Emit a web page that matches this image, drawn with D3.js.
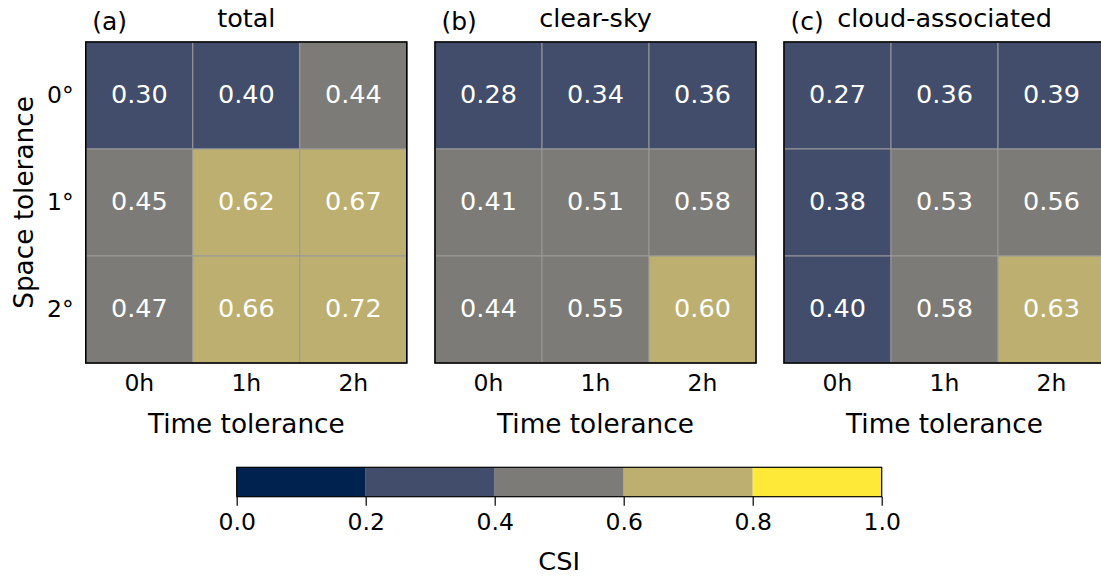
<!DOCTYPE html>
<html>
<head>
<meta charset="utf-8">
<script src="https://cdn.jsdelivr.net/npm/d3@7"></script>
<style>
	body { margin: 0; background: #fff; }
	svg { display: block; font-family: "DejaVu Sans", sans-serif; }
</style>
</head>
<body>
<main></main>
<script>
const timeLabels = ["0h", "1h", "2h"];
const spaceLabels = ["0°", "1°", "2°"];
const panelTags = ["(a)", "(b)", "(c)"];
const panelTitles = ["total", "clear-sky", "cloud-associated"];

// rows = space tolerance, columns = time tolerance
const csiTotal = [[0.30, 0.398, 0.44], [0.45, 0.62, 0.67], [0.47, 0.66, 0.72]];
const csiClear = [[0.28, 0.34, 0.36], [0.41, 0.51, 0.58], [0.44, 0.55, 0.602]];
const csiCloud = [[0.27, 0.36, 0.39], [0.38, 0.53, 0.56], [0.399, 0.58, 0.63]];

const binEdges = [0.2, 0.4, 0.6, 0.8];
const binColors = ["#00224e", "#414d6b", "#7c7b78", "#bcaf6f", "#fee838"];
const cbarTicks = [0, 0.2, 0.4, 0.6, 0.8, 1.0];

const w = 1101,
	h = 578,
	panelLeft = [85.8, 435, 784],
	panelW = 321,
	gridTop = 42,
	gridBottom = 363;

const color = d3.scaleThreshold().domain(binEdges).range(binColors);
const fmt = d3.format(".2f");

const svg = d3.select("main")
	.append("svg")
	.attr("width", w)
	.attr("height", h);

const yScale = d3.scaleBand()
	.domain(spaceLabels)
	.range([gridTop, gridBottom]);

// strip d3's default axis styling so the text uses the page font
function plainAxis(a) {
	a.attr("font-family", null).attr("font-size", null);
	a.select(".domain").remove();
	a.selectAll("text").attr("fill", "#000").style("font-size", "23.5px");
}

[csiTotal, csiClear, csiCloud].forEach((grid, p) => {
	const x0 = panelLeft[p];
	const xScale = d3.scaleBand()
		.domain(timeLabels)
		.range([x0, x0 + panelW]);

	const cells = [];
	grid.forEach((row, i) => row.forEach((v, j) => cells.push({ s: spaceLabels[i], t: timeLabels[j], v: v })));

	const g = svg.append("g");

	g.selectAll("rect.cell")
		.data(cells)
		.enter()
		.append("rect")
		.attr("class", "cell")
		.attr("x", d => xScale(d.t))
		.attr("y", d => yScale(d.s))
		.attr("width", xScale.bandwidth())
		.attr("height", yScale.bandwidth())
		.attr("fill", d => color(d.v))
		.attr("stroke", "#9a9a9a")
		.attr("stroke-width", 1);

	g.selectAll("text.val")
		.data(cells)
		.enter()
		.append("text")
		.attr("class", "val")
		.attr("x", d => xScale(d.t) + xScale.bandwidth() / 2)
		.attr("y", d => yScale(d.s) + yScale.bandwidth() / 2 - 1.5)
		.attr("dy", "0.36em")
		.attr("text-anchor", "middle")
		.attr("fill", "#fff")
		.style("font-size", "25.5px")
		.text(d => fmt(d.v));

	g.append("rect")
		.attr("x", x0)
		.attr("y", gridTop)
		.attr("width", panelW)
		.attr("height", gridBottom - gridTop)
		.attr("fill", "none")
		.attr("stroke", "#000")
		.attr("stroke-width", 1.6);

	const xAxis = d3.axisBottom(xScale).tickSize(0).tickPadding(11);
	g.append("g")
		.attr("transform", "translate(0," + gridBottom + ")")
		.call(xAxis)
		.call(plainAxis);

	g.append("text")
		.attr("x", x0 + panelW / 2)
		.attr("y", 432.5)
		.attr("text-anchor", "middle")
		.style("font-size", "26.3px")
		.text("Time tolerance");

	g.append("text")
		.attr("x", x0 + panelW / 2)
		.attr("y", 27)
		.attr("text-anchor", "middle")
		.style("font-size", "25.5px")
		.text(panelTitles[p]);

	g.append("text")
		.attr("x", x0 + 6.5)
		.attr("y", 30)
		.style("font-size", "25px")
		.text(panelTags[p]);
});

const yAxis = d3.axisLeft(yScale).tickSize(0).tickPadding(12);
svg.append("g")
	.attr("transform", "translate(" + panelLeft[0] + ",0)")
	.call(yAxis)
	.call(plainAxis);

svg.append("text")
	.attr("transform", "rotate(-90)")
	.attr("x", -(gridTop + gridBottom) / 2)
	.attr("y", 33)
	.attr("text-anchor", "middle")
	.style("font-size", "26.3px")
	.text("Space tolerance");

// colorbar
const cbX = d3.scaleLinear().domain([0, 1]).range([236.7, 881.7]);
const cbTop = 467.3, cbH = 29.4;

svg.selectAll("rect.bin")
	.data(binColors)
	.enter()
	.append("rect")
	.attr("class", "bin")
	.attr("x", (d, i) => cbX(i === 0 ? 0 : binEdges[i - 1]))
	.attr("y", cbTop)
	.attr("width", (d, i) => cbX(i === binEdges.length ? 1 : binEdges[i]) - cbX(i === 0 ? 0 : binEdges[i - 1]))
	.attr("height", cbH)
	.attr("fill", d => d);

svg.append("rect")
	.attr("x", cbX(0))
	.attr("y", cbTop)
	.attr("width", cbX(1) - cbX(0))
	.attr("height", cbH)
	.attr("fill", "none")
	.attr("stroke", "#000")
	.attr("stroke-width", 1.2);

const cbAxis = d3.axisBottom(cbX).tickValues(cbarTicks).tickFormat(d3.format(".1f")).tickSize(9).tickPadding(8);
svg.append("g")
	.attr("transform", "translate(0," + (cbTop + cbH) + ")")
	.call(cbAxis)
	.call(plainAxis)
	.call(a => a.selectAll("line").attr("stroke-width", 1.2));

svg.append("text")
	.attr("x", cbX(0.5))
	.attr("y", 570)
	.attr("text-anchor", "middle")
	.style("font-size", "25.6px")
	.text("CSI");
</script>
</body>
</html>
